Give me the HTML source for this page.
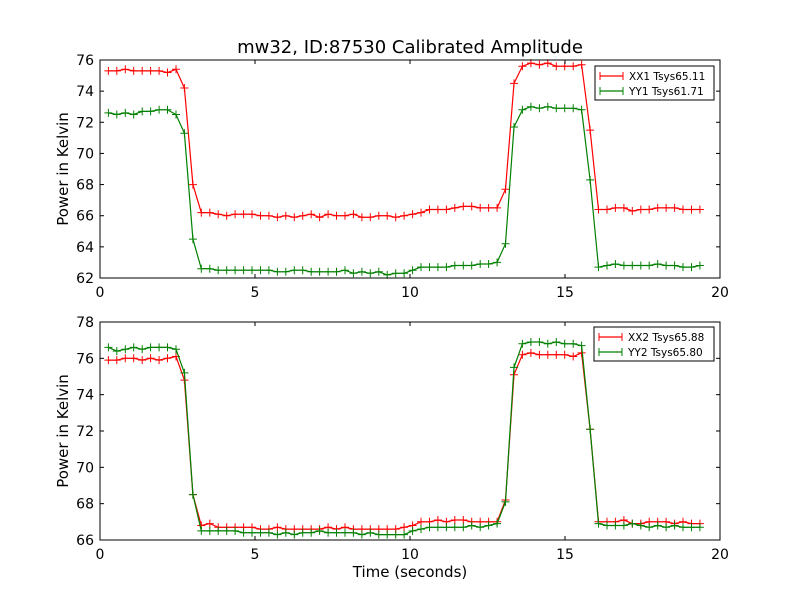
<!DOCTYPE html>
<html><head><meta charset="utf-8"><style>
html,body{margin:0;padding:0;background:#fff;}
svg{display:block;font-family:"DejaVu Sans","Liberation Sans",sans-serif;}
</style></head><body>
<svg id="fig" width="800" height="600" viewBox="0 0 800 600">
<rect width="800" height="600" fill="#fff"/>
<text x="410" y="53" font-size="18" text-anchor="middle">mw32, ID:87530 Calibrated Amplitude</text>
<text x="410" y="577" font-size="15" text-anchor="middle">Time (seconds)</text>
</svg>
<script>
const N = 71;
const t0 = 0.27, dt = 0.2726;
const xx1 = [75.3,75.3,75.4,75.3,75.3,75.3,75.3,75.2,75.4,74.2,68.0,66.2,66.2,
66.1,66.0,66.1,66.1,66.1,66.0,66.0,65.9,66.0,65.9,66.0,66.1,65.9,66.1,66.0,66.0,66.1,65.9,65.9,66.0,66.0,65.9,66.0,
66.1,66.2,66.4,66.4,66.4,66.5,66.6,66.6,66.5,66.5,66.5,
67.7,74.5,75.6,75.8,75.7,75.8,75.6,75.6,75.6,75.7,71.5,66.4,
66.4,66.5,66.5,66.3,66.4,66.4,66.5,66.5,66.5,66.4,66.4,66.4];
const yy1 = [72.6,72.5,72.6,72.5,72.7,72.7,72.8,72.8,72.5,71.3,64.5,62.6,62.6,
62.5,62.5,62.5,62.5,62.5,62.5,62.5,62.4,62.4,62.5,62.5,62.4,62.4,62.4,62.4,62.5,62.3,62.4,62.3,62.4,62.2,62.3,62.3,
62.5,62.7,62.7,62.7,62.7,62.8,62.8,62.8,62.9,62.9,63.0,
64.2,71.7,72.8,73.0,72.9,73.0,72.9,72.9,72.9,72.8,68.3,62.7,
62.8,62.9,62.8,62.8,62.8,62.8,62.9,62.8,62.8,62.7,62.7,62.8];
const xx2 = [75.9,75.9,76.0,76.0,75.9,76.0,75.9,76.0,76.1,74.8,68.5,66.8,66.9,
66.7,66.7,66.7,66.7,66.7,66.6,66.6,66.7,66.6,66.6,66.6,66.6,66.6,66.7,66.6,66.7,66.6,66.6,66.6,66.6,66.6,66.6,66.7,
66.8,67.0,67.0,67.1,67.0,67.1,67.1,67.0,67.0,67.0,67.0,
68.2,75.1,76.2,76.3,76.2,76.2,76.2,76.2,76.1,76.3,72.1,67.0,
67.0,67.0,67.1,66.9,66.9,67.0,67.0,67.0,66.9,67.0,66.9,66.9];
const yy2 = [76.6,76.4,76.5,76.6,76.5,76.6,76.6,76.6,76.5,75.2,68.5,66.5,66.5,
66.5,66.5,66.5,66.4,66.4,66.4,66.4,66.3,66.4,66.3,66.4,66.4,66.5,66.4,66.4,66.4,66.4,66.3,66.4,66.3,66.3,66.3,66.3,
66.5,66.6,66.7,66.7,66.7,66.7,66.7,66.8,66.7,66.8,66.9,
68.1,75.5,76.8,76.9,76.9,76.8,76.9,76.8,76.8,76.7,72.1,66.9,
66.8,66.8,66.8,66.9,66.8,66.7,66.8,66.7,66.8,66.7,66.7,66.7];
const xTicks = [0,5,10,15,20];
const yTicks1 = [62,64,66,68,70,72,74,76];
const yTicks2 = [66,68,70,72,74,76,78];
const legend1 = ["XX1 Tsys65.11","YY1 Tsys61.71"];
const legend2 = ["XX2 Tsys65.88","YY2 Tsys65.80"];

const NS = "http://www.w3.org/2000/svg";
const svg = document.getElementById('fig');
function mk(tag, attrs, parent){const e=document.createElementNS(NS,tag);for(const k in attrs)e.setAttribute(k,attrs[k]);(parent||svg).appendChild(e);return e;}

function panel(name, top, bottom, ymin, ymax, yTicks, series, legendLabels, lgTop, lgLeft){
  const L=100,R=720;
  const g=mk('g',{});
  
  
  const xs=v=>L+(v-0)/(20-0)*(R-L);
  const ys=v=>bottom-(v-ymin)/(ymax-ymin)*(bottom-top);
  const colors=['#ff0000','#008000'];
  series.forEach((s,si)=>{
    const sg=mk('g',{},g);
    
    
    let d='';
    s.forEach((v,i)=>{const x=xs(t0+i*dt),y=ys(v);d+=(i?'L':'M')+x.toFixed(1)+' '+y.toFixed(1);});
    mk('path',{d:d,fill:'none',stroke:colors[si],'stroke-width':1.2},sg);
    let m='';
    s.forEach((v,i)=>{const x=xs(t0+i*dt),y=ys(v);m+=`M${(x-4).toFixed(1)} ${y.toFixed(1)}h8M${x.toFixed(1)} ${(y-4).toFixed(1)}v8`;});
    mk('path',{d:m,fill:'none',stroke:colors[si],'stroke-width':1},sg);
  });
  mk('rect',{x:L,y:top,width:R-L,height:bottom-top,fill:'none',stroke:'#000','stroke-width':1},g);
  xTicks.forEach(v=>{
    const x=xs(v);
    mk('line',{x1:x,y1:bottom,x2:x,y2:bottom-4,stroke:'#000'},g);
    mk('line',{x1:x,y1:top,x2:x,y2:top+4,stroke:'#000'},g);
    const tx=mk('text',{x:x,y:bottom+19,'font-size':14,'text-anchor':'middle'},g);
    
    
    tx.textContent=v;
  });
  yTicks.forEach(v=>{
    const y=ys(v);
    mk('line',{x1:L,y1:y,x2:L+4,y2:y,stroke:'#000'},g);
    mk('line',{x1:R,y1:y,x2:R-4,y2:y,stroke:'#000'},g);
    const tx=mk('text',{x:L-6,y:y+5,'font-size':14,'text-anchor':'end'},g);
    
    
    tx.textContent=v;
  });
  const yt=mk('text',{x:0,y:0,'font-size':15,'text-anchor':'middle',transform:`translate(68 ${(top+bottom)/2}) rotate(-90)`},g);
  
  
  yt.textContent='Power in Kelvin';
  const lg=mk('g',{},g);
  
  
  mk('rect',{x:lgLeft,y:lgTop,width:714-lgLeft,height:34,fill:'#fff',stroke:'#000','stroke-width':1},lg);
  legendLabels.forEach((lab,i)=>{
    const y=lgTop+10+i*15;
    const e=mk('g',{},lg);
    
    
    mk('line',{x1:lgLeft+5,y1:y,x2:lgLeft+28,y2:y,stroke:colors[i],'stroke-width':1.2},e);
    mk('path',{d:`M${lgLeft+5} ${y-4}v8M${lgLeft+28} ${y-4}v8`,stroke:colors[i]},e);
    const tx=mk('text',{x:lgLeft+34,y:y+4,'font-size':10.5},e);
    tx.textContent=lab;
  });
}
panel('top-panel',60,278,62,76,yTicks1,[xx1,yy1],legend1,66,595);
panel('bottom-panel',322,540,66,78,yTicks2,[xx2,yy2],legend2,327,594);
</script>
</body></html>
